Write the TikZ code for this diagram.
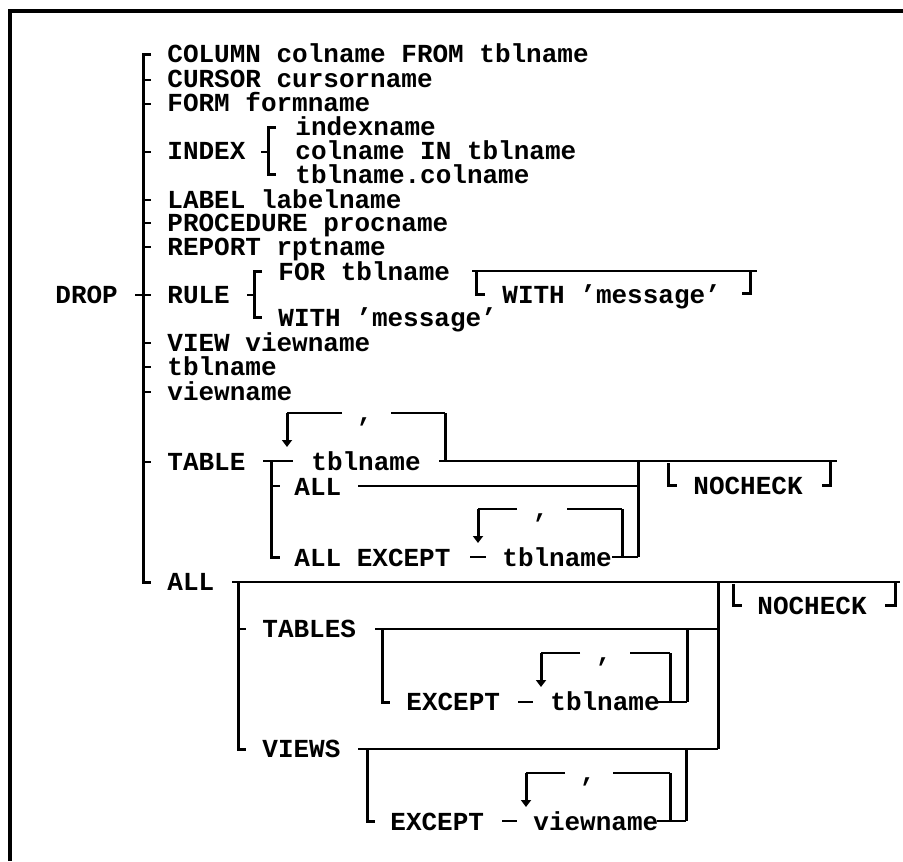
\documentclass[tikz,border=0pt]{standalone}
\usepackage{fontspec}
\setmonofont{Liberation Mono}
\usetikzlibrary{arrows.meta}

\tikzset{
  kw/.style={font=\ttfamily\bfseries\fontsize{13}{15}\selectfont, inner sep=0pt, anchor=base west},
  sep/.style={kw, anchor=base},
  rail/.style={line width=0.8pt},
  bar/.style={line width=1.5pt},
  rep/.style={bar, -{Triangle[length=3.5pt,width=5pt]}},
}

\begin{document}
\begin{tikzpicture}[x=0.5pt, y=-0.5pt]
 \useasboundingbox (0,0) rectangle (903,861);
 \draw[line width=2pt] (10,861) -- (10,11.5) -- (903,11.5);

 % keywords and names
 \node[kw] (drop) at (55,303) {DROP};
 \node[kw] (column) at (167,63) {COLUMN colname FROM tblname};
 \node[kw] (cursor) at (167,88) {CURSOR cursorname};
 \node[kw] (form) at (167,112) {FORM formname};
 \node[kw] (index) at (167,160) {INDEX};
 \node[kw] (idxname) at (295,136) {indexname};
 \node[kw] (colin) at (295,160) {colname IN tblname};
 \node[kw] (tblcol) at (295,184) {tblname.colname};
 \node[kw] (label) at (167,208) {LABEL labelname};
 \node[kw] (proc) at (167,231) {PROCEDURE procname};
 \node[kw] (report) at (167,255) {REPORT rptname};
 \node[kw] (rule) at (167,303) {RULE};
 \node[kw] (fortbl) at (278,280) {FOR tblname};
 \node[kw] (withmsg) at (278,326) {WITH ’message’};
 \node[kw] (optmsg) at (502,303) {WITH ’message’};
 \node[kw] (view) at (167,351) {VIEW viewname};
 \node[kw] (tbl) at (167,375) {tblname};
 \node[kw] (vname) at (167,400) {viewname};
 \node[kw] (table) at (167,470) {TABLE};
 \node[kw] (tbllist) at (311,470) {tblname};
 \node[kw] (alltbl) at (294,495) {ALL};
 \node[kw] (allexc) at (294,566) {ALL EXCEPT};
 \node[kw] (exctbl) at (502,566) {tblname};
 \node[kw] (nocheckA) at (693,494) {NOCHECK};
 \node[kw] (all) at (167,590) {ALL};
 \node[kw] (tables) at (262,637) {TABLES};
 \node[kw] (excA) at (406,710) {EXCEPT};
 \node[kw] (excAtbl) at (550,710) {tblname};
 \node[kw] (views) at (262,757) {VIEWS};
 \node[kw] (excB) at (390,830) {EXCEPT};
 \node[kw] (excBview) at (533,830) {viewname};
 \node[kw] (nocheckB) at (757,614) {NOCHECK};
 \node[sep] (commaA) at (365,421) {,};
 \node[sep] (commaB) at (541,517) {,};
 \node[sep] (commaC) at (604,661) {,};
 \node[sep] (commaD) at (588,781) {,};

 % main choice
 \draw[rail] (135,295) -- (151,295);
 \draw[bar] (151,55) -- (143,55) -- (143,582) -- (151,582);
 \foreach \y in {80,104,152,200,223,247,343,367,392,462}
  \draw[rail] (143,\y) -- (151,\y);

 % INDEX and RULE
 \draw[bar] (276,128) -- (268,128) -- (268,175) -- (276,175);
 \draw[rail] (261,152) -- (268,152);
 \draw[bar] (262,271) -- (254,271) -- (254,317) -- (262,317);
 \draw[rail] (247,295) -- (254,295);
 \draw[rail] (472,271) -- (757,271);
 \draw[bar] (476,271) -- (476,294) -- (485,294);
 \draw[bar] (750,271) -- (750,293) -- (742,293);

 % TABLE
 \draw[rail] (263,461) -- (293,461);
 \draw[bar] (271,461) -- (271,557) -- (280,557);
 \draw[rail] (271,486) -- (280,486);
 \draw[rail] (342,413) -- (287,413);
 \draw[rep] (287,413) -- (287,447);
 \draw[rail] (391,413) -- (445,413);
 \draw[bar] (445,413) -- (445,461);
 \draw[rail] (439,461) -- (837,461);
 \draw[rail] (358,486) -- (638,486);
 \draw[rail] (470,557) -- (486,557);
 \draw[rail] (517,509) -- (478,509);
 \draw[rep] (478,509) -- (478,543);
 \draw[rail] (567,509) -- (622,509);
 \draw[bar] (622,509) -- (622,557);
 \draw[rail] (612,557) -- (638,557);
 \draw[bar] (638,461) -- (638,557);
 \draw[bar] (668,463) -- (668,485) -- (677,485);
 \draw[bar] (830,461) -- (830,485) -- (822,485);

 % ALL
 \draw[rail] (232,582) -- (900,582);
 \draw[bar] (238,582) -- (238,749) -- (246,749);
 \draw[rail] (238,629) -- (246,629);
 \draw[rail] (375,629) -- (718,629);
 \draw[bar] (382,629) -- (382,702) -- (390,702);
 \draw[rail] (518,702) -- (533,702);
 \draw[rail] (580,653) -- (541,653);
 \draw[rep] (541,653) -- (541,687);
 \draw[rail] (630,653) -- (670,653);
 \draw[bar] (670,653) -- (670,702);
 \draw[rail] (657,702) -- (687,702);
 \draw[bar] (687,702) -- (687,629);
 \draw[bar] (718,582) -- (718,749);
 \draw[rail] (358,749) -- (718,749);
 \draw[bar] (367,749) -- (367,821) -- (375,821);
 \draw[rail] (502,821) -- (517,821);
 \draw[rail] (565,773) -- (526,773);
 \draw[rep] (526,773) -- (526,807);
 \draw[rail] (613,773) -- (670,773);
 \draw[bar] (670,773) -- (670,821);
 \draw[rail] (657,821) -- (686,821);
 \draw[bar] (686,821) -- (686,749);
 \draw[bar] (733,584) -- (733,605) -- (742,605);
 \draw[bar] (895,582) -- (895,605) -- (885,605);
\end{tikzpicture}
\end{document}
